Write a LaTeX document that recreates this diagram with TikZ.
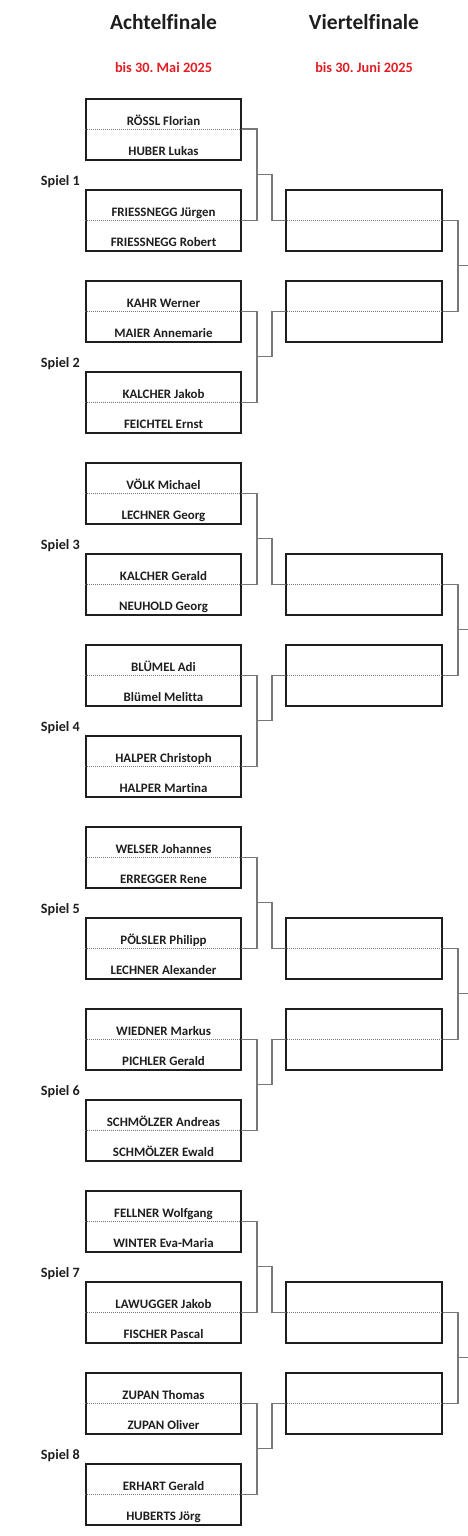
\documentclass[tikz,border=0pt]{standalone}
\usepackage{fontspec}
\setmainfont[Ligatures={NoCommon}]{Carlito}
\usepackage{xcolor}
\usetikzlibrary{positioning, calc}
\definecolor{DateRed}{RGB}{226,30,36}
\definecolor{InkDark}{RGB}{30,30,30}
\definecolor{LinkGrey}{RGB}{120,120,120}
\frenchspacing

\begin{document}
\begin{tikzpicture}[x=1pt,y=-1pt,
        match/.style={rectangle,draw=InkDark,line width=1.8pt,
                      minimum width=155pt,minimum height=61pt,inner sep=0pt},
        quarter/.style={match,minimum width=156pt},
        player/.style={anchor=base,inner sep=0pt,text=InkDark,
                       font=\fontsize{12.9}{14}\selectfont\bfseries},
        round/.style={anchor=base,inner sep=0pt,text=InkDark,
                      font=\fontsize{21.5}{24}\selectfont\bfseries},
        deadline/.style={anchor=base,inner sep=0pt,text=DateRed,
                         font=\fontsize{14.3}{16}\selectfont\bfseries},
        game/.style={anchor=base east,inner sep=0pt,text=InkDark,
                     font=\fontsize{14.2}{16}\selectfont\bfseries},
        mid/.style={draw=LinkGrey,line width=0.7pt,dash pattern=on 1pt off 1pt},
        link/.style={draw=LinkGrey,line width=1.4pt}
      ]
        \useasboundingbox (0,0) rectangle (467,1536);
        % headings
        \node[round] (h1) at (163.5,29.3) {Achtelfinale};
        \node[round] (h2) at (364,29.3) {Viertelfinale};
        \node[deadline] (d1) at (163.5,73) {bis 30. Mai 2025};
        \node[deadline] (d2) at (364,73) {bis 30. Juni 2025};
        % round of sixteen
        \foreach \i/\na/\nb in {
            1/RÖSSL Florian/HUBER Lukas,
            2/FRIESSNEGG Jürgen/FRIESSNEGG Robert,
            3/KAHR Werner/MAIER Annemarie,
            4/KALCHER Jakob/FEICHTEL Ernst,
            5/VÖLK Michael/LECHNER Georg,
            6/KALCHER Gerald/NEUHOLD Georg,
            7/BLÜMEL Adi/Blümel Melitta,
            8/HALPER Christoph/HALPER Martina,
            9/WELSER Johannes/ERREGGER Rene,
            10/PÖLSLER Philipp/LECHNER Alexander,
            11/WIEDNER Markus/PICHLER Gerald,
            12/SCHMÖLZER Andreas/SCHMÖLZER Ewald,
            13/FELLNER Wolfgang/WINTER Eva-Maria,
            14/LAWUGGER Jakob/FISCHER Pascal,
            15/ZUPAN Thomas/ZUPAN Oliver,
            16/ERHART Gerald/HUBERTS Jörg} {
          \pgfmathsetmacro\ty{98.7+91*(\i-1)}
          \node[match] (m\i) at (163.5,{\ty+30.5}) {};
          \draw[mid] (m\i.west) -- (m\i.east);
          \node[player] (m\i-a) at (163.5,{\ty+26.3}) {\na};
          \node[player] (m\i-b) at (163.5,{\ty+56.3}) {\nb};
        }
        % quarter final slots
        \foreach \k/\i in {1/2,2/3,3/6,4/7,5/10,6/11,7/14,8/15} {
          \pgfmathsetmacro\ty{98.7+91*(\i-1)}
          \node[quarter] (v\k) at (364,{\ty+30.5}) {};
          \draw[mid] (v\k.west) -- (v\k.east);
        }
        % games and brackets
        \foreach \k in {1,...,8} {
          \pgfmathtruncatemacro\a{2*\k-1}
          \pgfmathtruncatemacro\b{2*\k}
          \pgfmathsetmacro\ty{98.7+182*(\k-1)}
          \node[game] (s\k) at (80,{\ty+86.6}) {Spiel \k};
          \draw[link] (m\a.east) -- ++(15,0) |- (m\b.east);
          \coordinate (c\k) at ($(m\a.east)!0.5!(m\b.east)$);
          \draw[link] ([xshift=15]c\k) -- ++(15,0) |- (v\k.west);
        }
        \foreach \k in {1,...,4} {
          \pgfmathtruncatemacro\a{2*\k-1}
          \pgfmathtruncatemacro\b{2*\k}
          \draw[link] (v\a.east) -- ++(15,0) |- (v\b.east);
          \coordinate (q\k) at ($(v\a.east)!0.5!(v\b.east)$);
          \draw[link] ([xshift=15]q\k) -- ++(12,0);
        }
      \end{tikzpicture}
\end{document}
